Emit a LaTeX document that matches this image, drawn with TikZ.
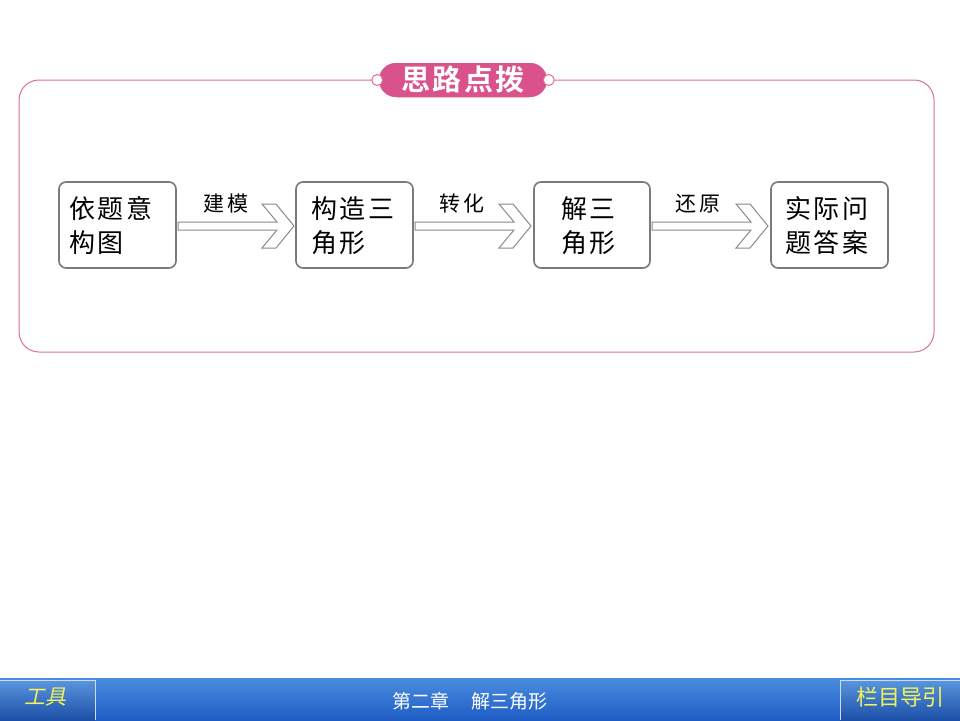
\documentclass[tikz,border=0pt]{standalone}
\usepackage{fontspec}
\newfontfamily\cjk{Noto Sans CJK SC}
\newfontfamily\cjkw[LetterSpace=10]{Noto Sans CJK SC}
\newfontfamily\cjkl[LetterSpace=16]{Noto Sans CJK SC}
\newfontfamily\cjkb[LetterSpace=8]{Noto Sans CJK SC Bold}
\definecolor{pinkline}{HTML}{D8709A}
\definecolor{pinkfill}{HTML}{D9528C}
\definecolor{boxline}{HTML}{7A7A7A}
\definecolor{arrline}{HTML}{8A8A8A}
\definecolor{bartop}{HTML}{4A8CE0}
\definecolor{barbot}{HTML}{1F5DC4}
\definecolor{btntop}{HTML}{5A96DE}
\definecolor{btnbot}{HTML}{1C4FA8}
\definecolor{yelt}{HTML}{F2F25A}
\usetikzlibrary{shapes.misc}
\tikzset{
  stepbox/.style={draw=boxline, line width=1.6pt, rounded corners=7pt, fill=white},
  boxtext/.style={font=\cjkw\fontsize{26}{34}\selectfont, align=left, anchor=west, inner sep=0pt},
  lbl/.style={font=\cjkl\fontsize{21}{24}\selectfont, inner sep=0pt},
  hollow/.style={draw=arrline, line width=1pt, fill=white, line join=miter},
}
\begin{document}
\begin{tikzpicture}[x=1pt,y=-1pt]
\useasboundingbox (0,0) rectangle (960,720);
\fill[white] (0,0) rectangle (960,720);
% outer frame
\draw[pinkline, line width=1pt, rounded corners=20pt] (19,80) rectangle (934,352);
% title pill
\node (title) [rounded rectangle, fill=pinkfill, draw=white, line width=1.5pt, minimum width=170pt, minimum height=36pt, inner sep=0pt, text=white, font=\cjkb\fontsize{29}{32}\selectfont] at (463,80) {思路点拨};
\draw[pinkline, fill=white, line width=1pt] (title.west) circle (5.5pt);
\draw[pinkline, fill=white, line width=1pt] (title.east) circle (5.5pt);
% boxes
\draw[stepbox] (59,182) rectangle (176,268);
\node (b1) [boxtext] at (69,226) {依题意\\构图};
\draw[stepbox] (296,182) rectangle (413,268);
\node (b2) [boxtext] at (311,226) {构造三\\角形};
\draw[stepbox] (534,182) rectangle (650,268);
\node (b3) [boxtext] at (561,226) {解三\\角形};
\draw[stepbox] (771,182) rectangle (888,268);
\node (b4) [boxtext] at (785,226) {实际问\\题答案};
% hollow arrows
\foreach \s in {178, 415, 652}{
  \begin{scope}[shift={(\s,0)}]
  \draw[hollow] (0,222) -- (99,222) -- (84,204) -- (98,204) -- (116,226) -- (98,248) -- (84,248) -- (99,230) -- (0,230) -- cycle;
  \end{scope}
}
\node (l1) [lbl] at (226,204) {建模};
\node (l2) [lbl] at (462,204) {转化};
\node (l3) [lbl] at (698,204) {还原};
% bottom bar
\shade[top color=bartop, bottom color=barbot] (0,678) rectangle (960,720);
\shade[top color=btntop, bottom color=btnbot] (0,680) rectangle (95,720);
\draw[white!70!bartop, line width=0.8pt] (0,680) -- (95,680) -- (95,720);
\shade[top color=btntop, bottom color=btnbot] (840,680) rectangle (960,720);
\draw[white!70!bartop, line width=0.8pt] (840,720) -- (840,680) -- (960,680);
\node (tool) [text=yelt, font=\cjk\fontsize{21}{24}\selectfont, xslant=0.2] at (47,697) {工具};
\node (chap) [text=white, font=\cjk\fontsize{19}{22}\selectfont] at (470,701) {第二章\hspace{1.2em}解三角形};
\node (nav) [text=yelt, font=\cjk\fontsize{22}{24}\selectfont] at (900,697) {栏目导引};
\end{tikzpicture}
\end{document}
